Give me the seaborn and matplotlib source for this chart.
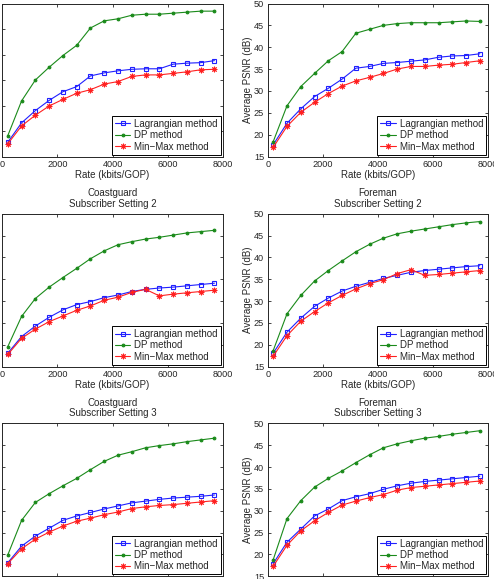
import matplotlib
matplotlib.use('Agg')
import matplotlib.pyplot as plt
import seaborn as sns

# Rate points (kbits/GOP)
rate = [200, 700, 1200, 1700, 2200, 2700, 3200, 3700, 4200, 4700, 5200, 5700, 6200, 6700, 7200, 7700]

# Coastguard, subscriber settings 1-3
cg1_lag = [17.8, 21.6, 24.0, 26.0, 27.7, 28.7, 30.8, 31.4, 31.8, 32.1, 32.2, 32.2, 33.1, 33.3, 33.4, 33.8]
cg1_dp = [19.1, 25.9, 30.0, 32.5, 34.8, 36.8, 40.2, 41.6, 42.0, 42.7, 42.9, 42.9, 43.1, 43.3, 43.5, 43.5]
cg1_mm = [17.5, 21.0, 23.1, 24.9, 26.2, 27.4, 28.1, 29.2, 29.7, 30.7, 31.0, 31.0, 31.3, 31.6, 32.0, 32.1]

cg2_lag = [18.1, 21.9, 24.3, 26.3, 28.0, 29.2, 29.9, 30.8, 31.4, 32.2, 32.7, 33.0, 33.2, 33.5, 33.8, 34.1]
cg2_dp = [19.6, 26.5, 30.6, 33.2, 35.4, 37.5, 39.7, 41.5, 42.9, 43.6, 44.2, 44.6, 45.1, 45.6, 45.9, 46.2]
cg2_mm = [17.8, 21.5, 23.6, 25.3, 26.6, 27.9, 28.9, 30.2, 30.9, 32.0, 32.7, 31.2, 31.6, 31.9, 32.2, 32.5]

cg3_lag = [18.1, 21.9, 24.2, 26.0, 27.8, 28.8, 29.6, 30.4, 31.1, 31.8, 32.2, 32.6, 32.9, 33.1, 33.3, 33.6]
cg3_dp = [19.9, 27.8, 31.9, 33.9, 35.7, 37.4, 39.4, 41.3, 42.7, 43.5, 44.4, 44.9, 45.3, 45.8, 46.2, 46.6]
cg3_mm = [17.9, 21.3, 23.5, 25.1, 26.5, 27.6, 28.3, 29.1, 29.7, 30.5, 30.9, 31.2, 31.4, 31.7, 32.0, 32.3]

# Foreman, subscriber settings 1-3
fm1_lag = [17.7, 22.6, 25.9, 28.7, 30.6, 32.7, 35.2, 35.6, 36.3, 36.5, 36.8, 37.1, 37.7, 38.0, 38.1, 38.5]
fm1_dp = [18.4, 26.6, 31.0, 34.0, 36.9, 39.0, 43.2, 44.1, 45.0, 45.4, 45.6, 45.6, 45.6, 45.8, 46.0, 45.9]
fm1_mm = [17.1, 21.9, 25.1, 27.4, 29.4, 31.1, 32.3, 33.1, 34.0, 35.0, 35.6, 35.6, 35.9, 36.1, 36.5, 36.9]

fm2_lag = [18.1, 22.9, 26.1, 28.8, 30.7, 32.3, 33.4, 34.3, 35.2, 35.9, 36.6, 37.0, 37.3, 37.6, 37.9, 38.1]
fm2_dp = [18.7, 27.1, 31.3, 34.6, 37.0, 39.2, 41.3, 43.0, 44.4, 45.4, 46.0, 46.5, 47.0, 47.5, 47.9, 48.2]
fm2_mm = [17.4, 22.1, 25.4, 27.6, 29.6, 31.3, 32.8, 34.0, 34.9, 36.3, 37.2, 35.9, 36.1, 36.4, 36.7, 37.0]

fm3_lag = [17.9, 22.8, 25.8, 28.8, 30.4, 32.3, 33.2, 33.9, 34.9, 35.7, 36.3, 36.7, 37.0, 37.3, 37.6, 37.9]
fm3_dp = [18.8, 28.2, 32.3, 35.4, 37.4, 39.1, 41.0, 42.8, 44.4, 45.3, 46.0, 46.6, 47.0, 47.5, 47.9, 48.3]
fm3_mm = [17.3, 22.1, 25.4, 27.7, 29.6, 31.3, 32.2, 33.0, 33.7, 34.7, 35.3, 35.6, 35.9, 36.2, 36.5, 36.8]

methods = ['Lagrangian method', 'DP method', 'Min\u2212Max method']

sns.set_style('ticks')
plt.rcParams['font.family'] = ['Liberation Sans', 'DejaVu Sans']
plt.rcParams['font.size'] = 7

W, H = 494, 579
fig = plt.figure(figsize=(W / 100, H / 100), dpi=100)

# panel layout in pixels (the original figure is cropped, so axes touch the edges)
col_x = [2.3, 267.7]
row_top = [3.5, 213.7, 423.3]
ax_w, ax_h = 220.4, 153.0

panels = [
    ('Coastguard', 1, cg1_lag, cg1_dp, cg1_mm, (15, 45)),
    ('Foreman', 1, fm1_lag, fm1_dp, fm1_mm, (15, 50)),
    ('Coastguard', 2, cg2_lag, cg2_dp, cg2_mm, (15, 50)),
    ('Foreman', 2, fm2_lag, fm2_dp, fm2_mm, (15, 50)),
    ('Coastguard', 3, cg3_lag, cg3_dp, cg3_mm, (15, 50)),
    ('Foreman', 3, fm3_lag, fm3_dp, fm3_mm, (15, 50)),
]

for i, (seq, setting, lag, dp, mm, ylim) in enumerate(panels):
    r, c = divmod(i, 2)
    ax = fig.add_axes([col_x[c] / W, (H - row_top[r] - ax_h) / H, ax_w / W, ax_h / H])

    sns.lineplot(x=rate, y=lag, ax=ax, color='#2020ff', linestyle='-', dashes=False,
                 marker='s', markersize=3.2, markerfacecolor='none',
                 markeredgecolor='#2020ff', markeredgewidth=0.8,
                 linewidth=0.8, label=methods[0])
    sns.lineplot(x=rate, y=dp, ax=ax, color='#1a8a1a', linestyle='-', dashes=False,
                 marker='.', markersize=4, markeredgecolor='#1a8a1a',
                 linewidth=0.8, label=methods[1])
    sns.lineplot(x=rate, y=mm, ax=ax, color='#ff2020', linestyle='-', dashes=False,
                 marker=(8, 2, 0), markersize=4, markeredgecolor='#ff2020',
                 markeredgewidth=0.7, linewidth=0.8, label=methods[2])

    ax.set_xlim(0, 8000)
    ax.set_ylim(*ylim)
    ax.set_xticks([0, 2000, 4000, 6000, 8000])
    ax.set_yticks(range(ylim[0], ylim[1] + 1, 5))
    ax.tick_params(direction='in', top=True, right=True, labelsize=6.6, pad=2.5,
                   length=2.5, width=0.6)
    for sp in ax.spines.values():
        sp.set_linewidth(0.7)
    ax.set_xlabel('Rate (kbits/GOP)', fontsize=7, labelpad=0.5)
    ax.set_ylabel('Average PSNR (dB)', fontsize=7, labelpad=1)
    ax.set_title(f'{seq}\nSubscriber Setting {setting}', fontsize=7, pad=5, linespacing=1.1)
    leg = ax.legend(loc='lower right', fontsize=7, frameon=True, fancybox=False,
                    edgecolor='black', framealpha=1, borderaxespad=0.2, borderpad=0.3,
                    labelspacing=0.15, handlelength=1.6, handletextpad=0.4)
    leg.get_frame().set_linewidth(0.7)

fig.savefig('out.png', dpi=100)
